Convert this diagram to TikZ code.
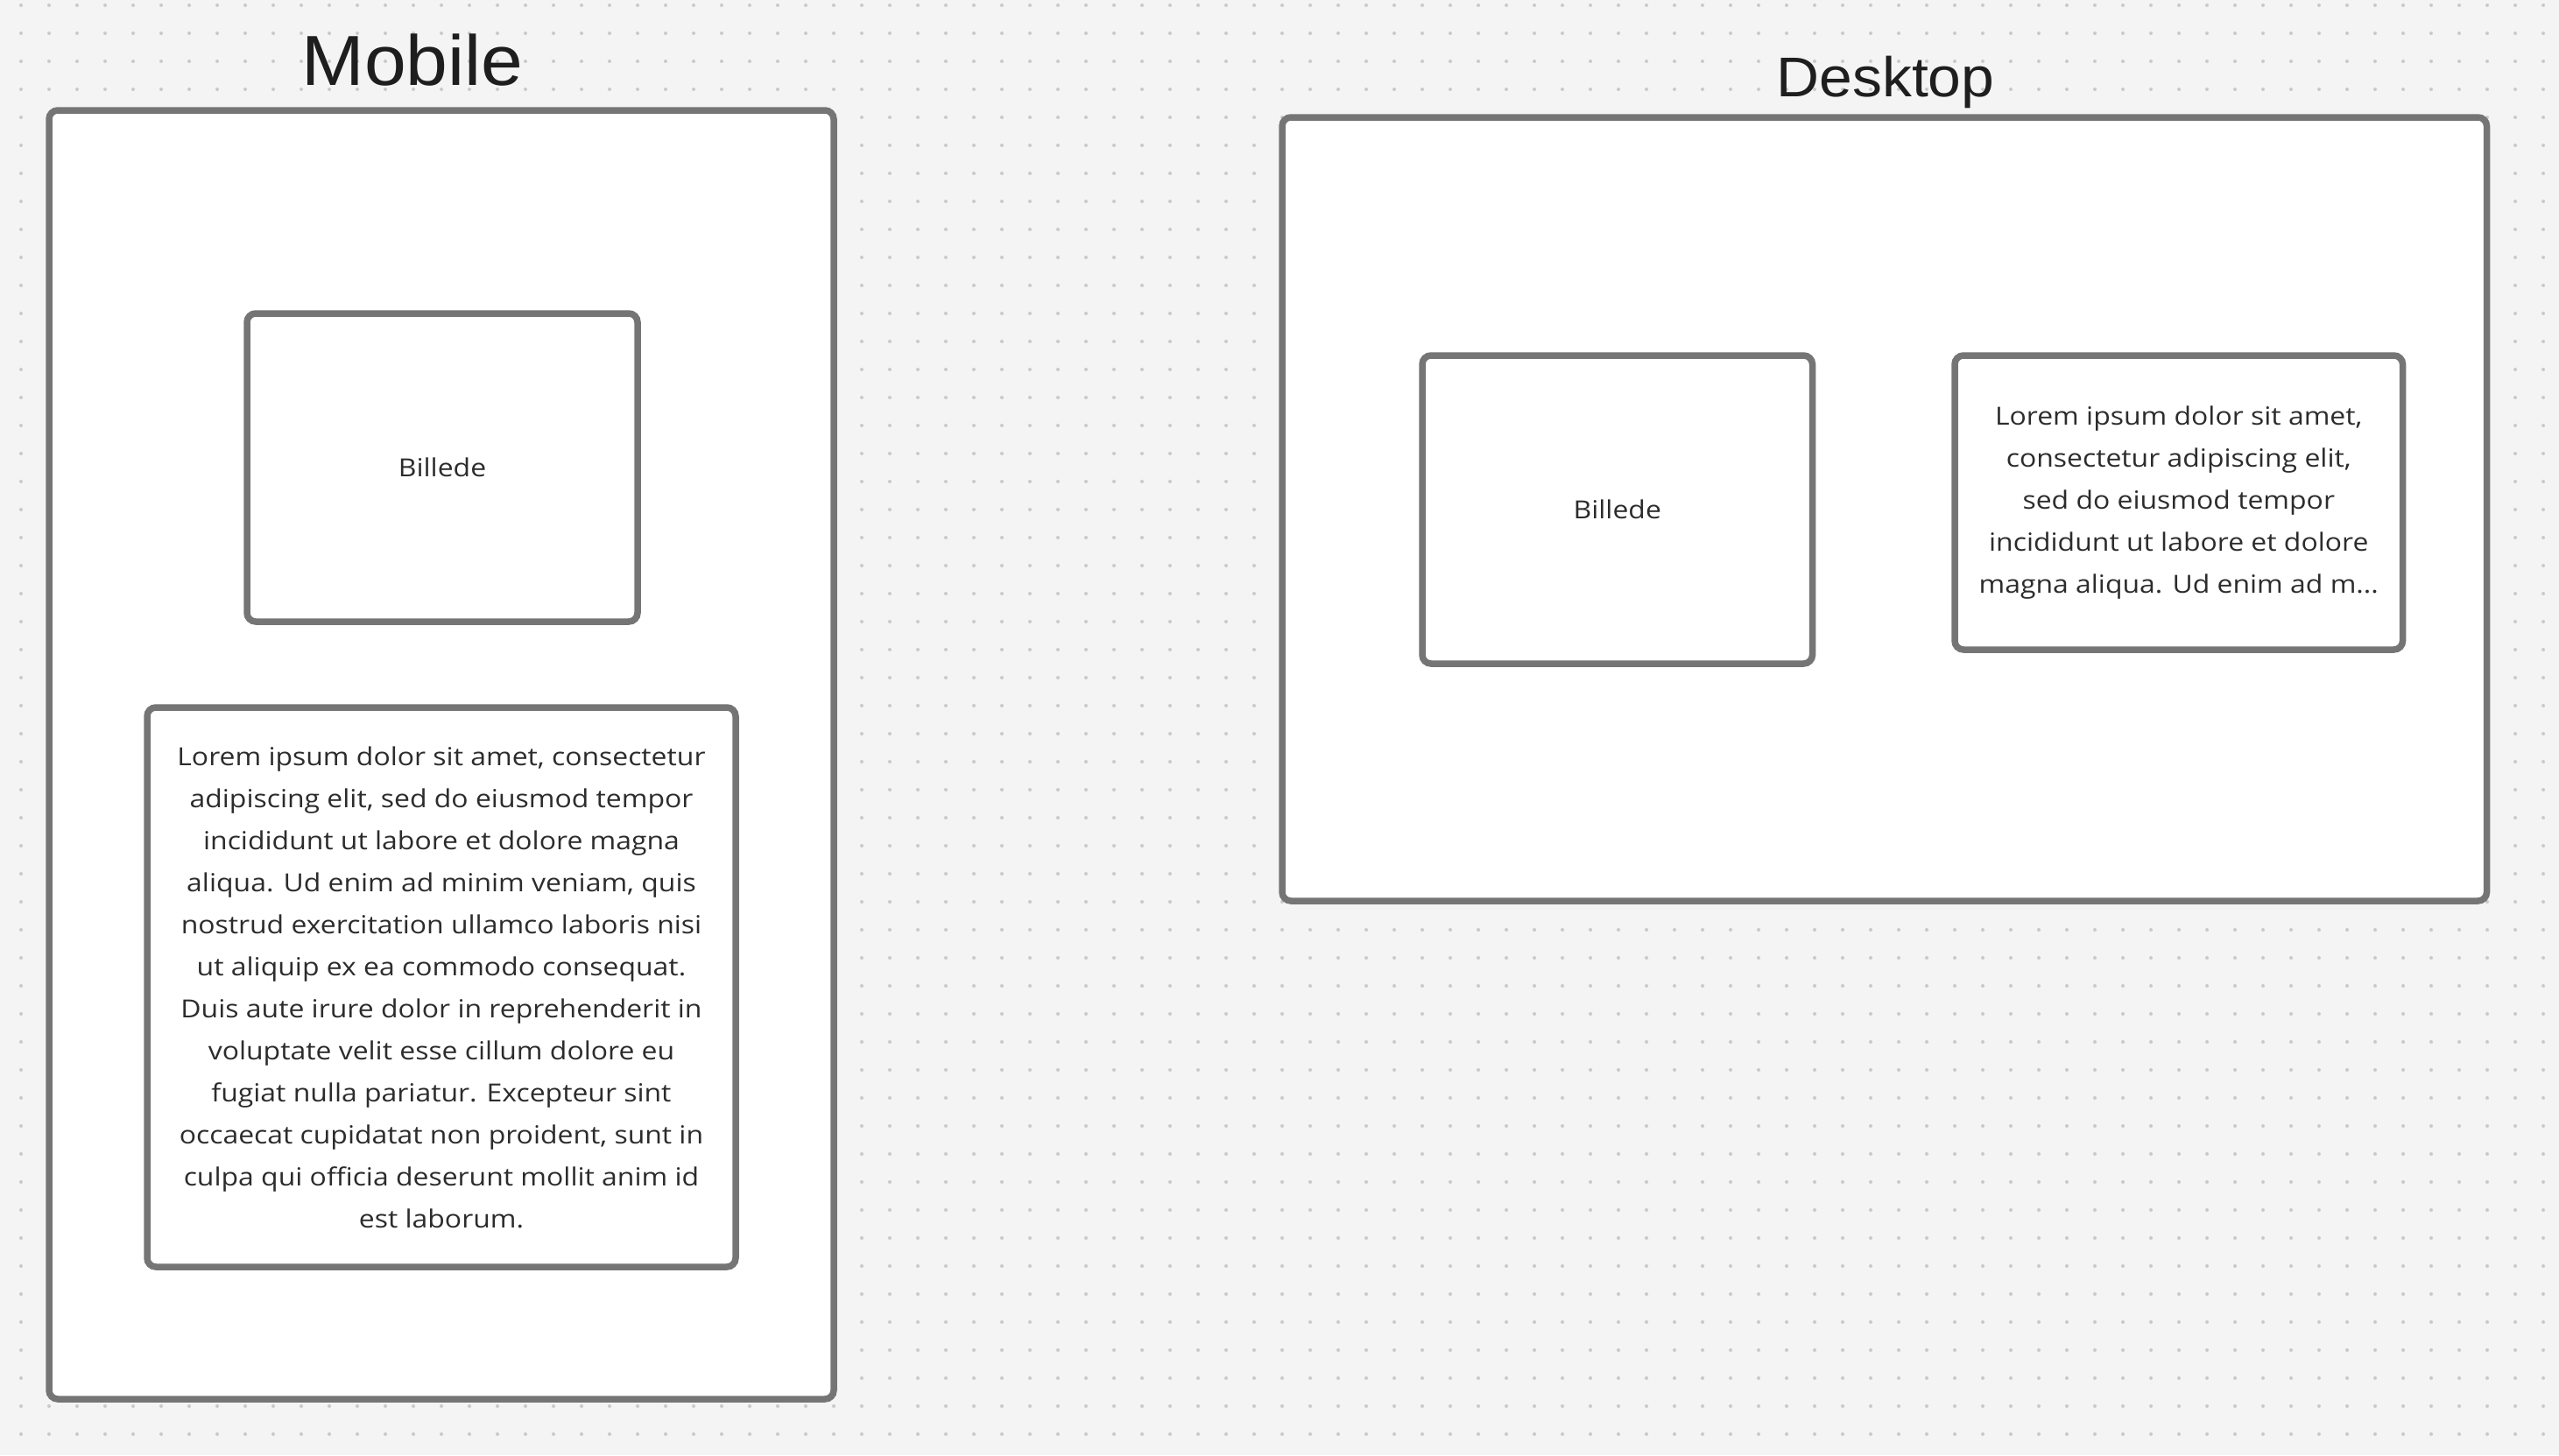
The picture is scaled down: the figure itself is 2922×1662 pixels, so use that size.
\documentclass[tikz,border=0pt]{standalone}
\usepackage{fontspec}
\setmainfont{Open Sans}[FakeStretch=1.12]
\newfontfamily\titlefont{Liberation Sans}[FakeStretch=1.06]
\definecolor{canvas}{HTML}{F4F4F4}
\definecolor{dotgray}{HTML}{C9C9C9}
\definecolor{framegray}{HTML}{757575}
\definecolor{bodyink}{HTML}{2C2C2C}
\definecolor{titleink}{HTML}{1E1E1E}
\begin{document}
\begin{tikzpicture}[x=1pt,y=-1pt,
  frame/.style={draw=framegray, fill=white, line width=7.5pt,
    rounded corners=10pt, inner sep=0pt, anchor=center},
  bodytext/.style={text=bodyink, font=\fontsize{28.5}{48}\selectfont, align=center},
  heading/.style={text=titleink, anchor=base, inner sep=0pt}]

% canvas with dot grid
\useasboundingbox (0,0) rectangle (2922,1662);
\fill[canvas] (0,0) rectangle (2922,1662);
\foreach \i in {0,...,90}
  \foreach \j in {0,...,51}
    \fill[dotgray] (24+32*\i, 6+32*\j) circle (2pt);

% titles
\node[heading, font=\titlefont\fontsize{81}{97}\selectfont] (mtitle) at (471,97) {Mobile};
\node[heading, font=\titlefont\fontsize{64}{77}\selectfont] (dtitle) at (2153,110) {Desktop};

% mobile layout
\node[frame, minimum width=896pt, minimum height=1472pt] (mframe) at (504,862) {};
\node[frame, bodytext, minimum width=446pt, minimum height=352pt] (mimg) at (505,534) {Billede};
\node[frame, bodytext, minimum width=672pt, minimum height=639pt] (mtext) at (504,1127.5)
  {Lorem ipsum dolor sit amet, consectetur\\
   adipiscing elit, sed do eiusmod tempor\\
   incididunt ut labore et dolore magna\\
   aliqua. Ud enim ad minim veniam, quis\\
   nostrud exercitation ullamco laboris nisi\\
   ut aliquip ex ea commodo consequat.\\
   Duis aute irure dolor in reprehenderit in\\
   voluptate velit esse cillum dolore eu\\
   fugiat nulla pariatur. Excepteur sint\\
   occaecat cupidatat non proident, sunt in\\
   culpa qui officia deserunt mollit anim id\\
   est laborum.};

% desktop layout
\node[frame, minimum width=1375.5pt, minimum height=895pt] (dframe) at (2151.75,581.5) {};
\node[frame, bodytext, minimum width=445.5pt, minimum height=352pt] (dimg) at (1846.75,582) {Billede};
\node[frame, bodytext, minimum width=511.5pt, minimum height=336pt] (dtext) at (2487.75,574)
  {Lorem ipsum dolor sit amet,\\
   consectetur adipiscing elit,\\
   sed do eiusmod tempor\\
   incididunt ut labore et dolore\\
   magna aliqua. Ud enim ad m...};
\end{tikzpicture}
\end{document}
